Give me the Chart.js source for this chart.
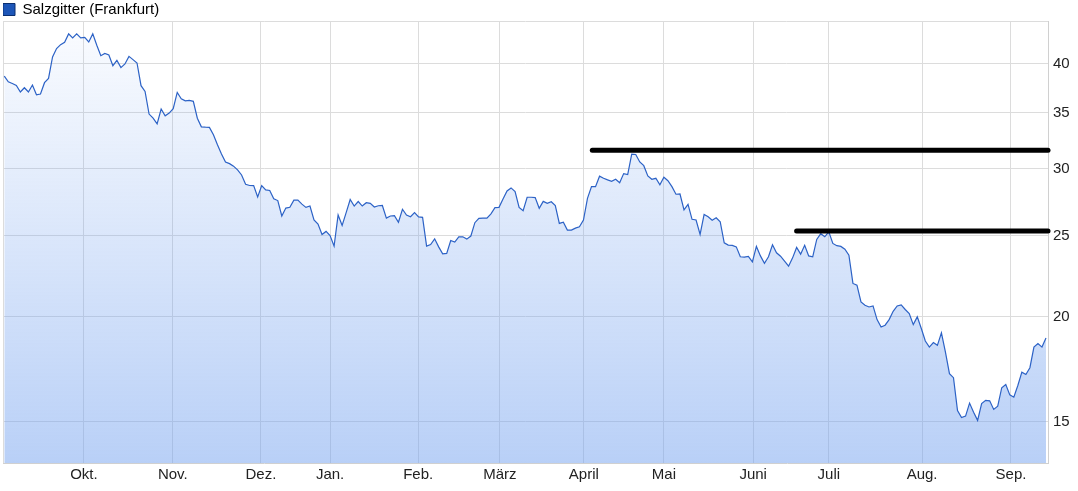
<!DOCTYPE html>
<html>
<head>
<meta charset="utf-8">
<script src="https://cdn.jsdelivr.net/npm/chart.js@4.4.1/dist/chart.umd.min.js"></script>
<style>
html, body { margin: 0; padding: 0; background: #fff; }
#wrap { width: 1078px; height: 491px; position: relative; }
</style>
</head>
<body>
<div id="wrap"><canvas id="priceChart"></canvas></div>
<script>
var seriesName = 'Salzgitter (Frankfurt)';

// one close per trading day
var prices = [
    38.70, 38.10, 37.92, 37.72, 37.04, 37.48, 37.04, 37.76, 36.76, 36.84,
    38.00, 38.45, 40.78, 41.72, 42.18, 42.45, 43.44, 42.96, 43.44, 42.96,
    43.03, 42.49, 43.44, 42.10, 40.92, 41.18, 41.00, 39.81, 40.40, 39.60,
    40.00, 40.84, 40.48, 40.11, 37.69, 37.10, 34.87, 34.49, 33.95, 35.35,
    34.70, 34.96, 35.38, 37.00, 36.36, 36.16, 36.21, 36.11, 34.47, 33.67,
    33.64, 33.62, 32.94, 32.05, 31.26, 30.58, 30.44, 30.23, 29.92, 29.51,
    28.77, 28.67, 28.66, 27.78, 28.66, 28.32, 28.28, 27.65, 27.51, 26.37,
    26.95, 27.01, 27.54, 27.54, 27.24, 27.00, 27.10, 26.08, 25.79, 25.07,
    25.28, 24.99, 24.28, 26.44, 25.70, 26.61, 27.59, 27.10, 27.44, 27.10,
    27.35, 27.30, 27.03, 27.12, 27.14, 26.22, 26.37, 26.39, 25.92, 26.86,
    26.44, 26.32, 26.61, 26.30, 26.27, 24.28, 24.39, 24.77, 24.23, 23.77,
    23.80, 24.66, 24.55, 24.91, 24.91, 24.75, 24.96, 25.89, 26.20, 26.22,
    26.22, 26.53, 26.98, 27.00, 27.63, 28.24, 28.48, 28.19, 27.00, 26.75,
    27.76, 27.76, 27.73, 26.93, 27.45, 27.30, 27.42, 27.14, 25.84, 25.92,
    25.37, 25.37, 25.51, 25.60, 26.08, 27.68, 28.58, 28.58, 29.41, 29.24,
    29.11, 29.00, 29.16, 28.89, 29.62, 29.54, 31.24, 31.21, 30.58, 30.27,
    29.43, 29.16, 29.24, 28.73, 29.32, 29.05, 28.58, 27.99, 28.01, 26.81,
    27.23, 26.13, 26.08, 25.07, 26.48, 26.32, 26.06, 26.24, 25.96, 24.50,
    24.35, 24.33, 24.23, 23.58, 23.56, 23.60, 23.26, 24.26, 23.64, 23.17,
    23.58, 24.37, 23.84, 23.62, 23.30, 22.98, 23.51, 24.19, 23.75, 24.33,
    23.64, 23.58, 24.73, 25.12, 24.91, 25.25, 24.46, 24.31, 24.26, 24.08,
    23.69, 21.92, 21.82, 20.84, 20.65, 20.55, 20.61, 19.85, 19.45, 19.55,
    19.85, 20.31, 20.61, 20.67, 20.41, 20.18, 19.58, 20.00, 19.37, 18.72,
    18.41, 18.64, 18.50, 19.14, 18.16, 17.12, 16.93, 15.47, 15.18, 15.24,
    15.79, 15.40, 15.06, 15.77, 15.91, 15.89, 15.52, 15.66, 16.47, 16.62,
    16.15, 16.05, 16.57, 17.19, 17.08, 17.40, 18.41, 18.59, 18.41, 18.88
];

var monthNames = ['Okt.', 'Nov.', 'Dez.', 'Jan.', 'Feb.', 'März', 'April', 'Mai', 'Juni', 'Juli', 'Aug.', 'Sep.'];
// trading-day index where each month begins
var monthStarts = [19.8, 41.9, 63.8, 81.0, 102.9, 123.2, 144.1, 164.0, 186.2, 205.0, 228.2, 250.3];

var yTicks = [15, 20, 25, 30, 35, 40];
var yMin = 13.4, yMax = 45;
var xMin = -0.32, xMax = 259.5;

// horizontal resistance lines: level and first trading day
var resistanceLevels = [31.58, 25.3];
var resistanceFrom = [146.2, 197];

Chart.defaults.font.family = "'Liberation Sans', Arial, sans-serif";
Chart.defaults.font.size = 15;
Chart.defaults.color = '#222';

var legendHeight = {
    id: 'legendHeight',
    beforeLayout: function(chart) {
        var legend = chart.legend;
        if (legend && !legend._fixedHeight) {
            var fit = legend.fit;
            legend.fit = function() {
                fit.call(this);
                this.height = 19;
            };
            legend._fixedHeight = true;
        }
    }
};

var datasets = [{
    label: seriesName,
    data: prices.map(function(p, i) { return {x: i, y: p}; }),
    borderColor: '#2c62c6',
    borderWidth: 1.2,
    pointRadius: 0,
    tension: 0,
    fill: 'start',
    order: 2,
    backgroundColor: function(context) {
        var area = context.chart.chartArea;
        if (!area) return 'rgba(115, 161, 239, 0.25)';
        var g = context.chart.ctx.createLinearGradient(0, area.top, 0, area.bottom);
        g.addColorStop(0, 'rgba(115, 161, 239, 0.03)');
        g.addColorStop(1, 'rgba(115, 161, 239, 0.5)');
        return g;
    }
}];

resistanceLevels.forEach(function(level, i) {
    datasets.push({
        label: 'Widerstand ' + (i + 1),
        data: [{x: resistanceFrom[i], y: level}, {x: xMax, y: level}],
        borderColor: '#000',
        borderWidth: 5,
        borderCapStyle: 'round',
        pointRadius: 0,
        fill: false,
        clip: false,
        order: 1
    });
});

var ctx = document.getElementById('priceChart').getContext('2d');
var priceChart = new Chart(ctx, {
    type: 'line',
    data: { datasets: datasets },
    plugins: [legendHeight],
    options: {
        responsive: true,
        maintainAspectRatio: false,
        animation: false,
        events: [],
        layout: { padding: { left: 3, top: 2, right: 0, bottom: 0 } },
        plugins: {
            tooltip: { enabled: false },
            legend: {
                position: 'top',
                align: 'start',
                labels: {
                    boxWidth: 12,
                    boxHeight: 12,
                    padding: 0,
                    font: { size: 15 },
                    generateLabels: function() {
                        return [{
                            text: seriesName,
                            fillStyle: '#1d56b8',
                            strokeStyle: '#0b2f70',
                            lineWidth: 1,
                            hidden: false,
                            datasetIndex: 0
                        }];
                    }
                }
            }
        },
        scales: {
            x: {
                type: 'linear',
                min: xMin,
                max: xMax,
                grid: { color: '#dcdcdc', drawTicks: false },
                border: { color: '#d0d0d0' },
                ticks: {
                    padding: 3,
                    autoSkip: false,
                    maxRotation: 0,
                    minRotation: 0,
                    callback: function(value, index) {
                        return index === 0 ? '' : monthNames[index - 1];
                    }
                },
                afterBuildTicks: function(axis) {
                    axis.ticks = [xMin].concat(monthStarts).map(function(v) { return {value: v}; });
                },
                afterFit: function(axis) { axis.height = 28; }
            },
            y: {
                type: 'logarithmic',
                position: 'right',
                min: yMin,
                max: yMax,
                grid: { color: '#dcdcdc', drawTicks: false },
                border: { color: '#d0d0d0' },
                ticks: {
                    padding: 5,
                    callback: function(value) {
                        return value === yMax ? '' : String(value);
                    }
                },
                afterBuildTicks: function(axis) {
                    axis.ticks = yTicks.concat([yMax]).map(function(v) { return {value: v}; });
                },
                afterFit: function(axis) { axis.width = 30; }
            }
        }
    }
});
</script>
</body>
</html>
